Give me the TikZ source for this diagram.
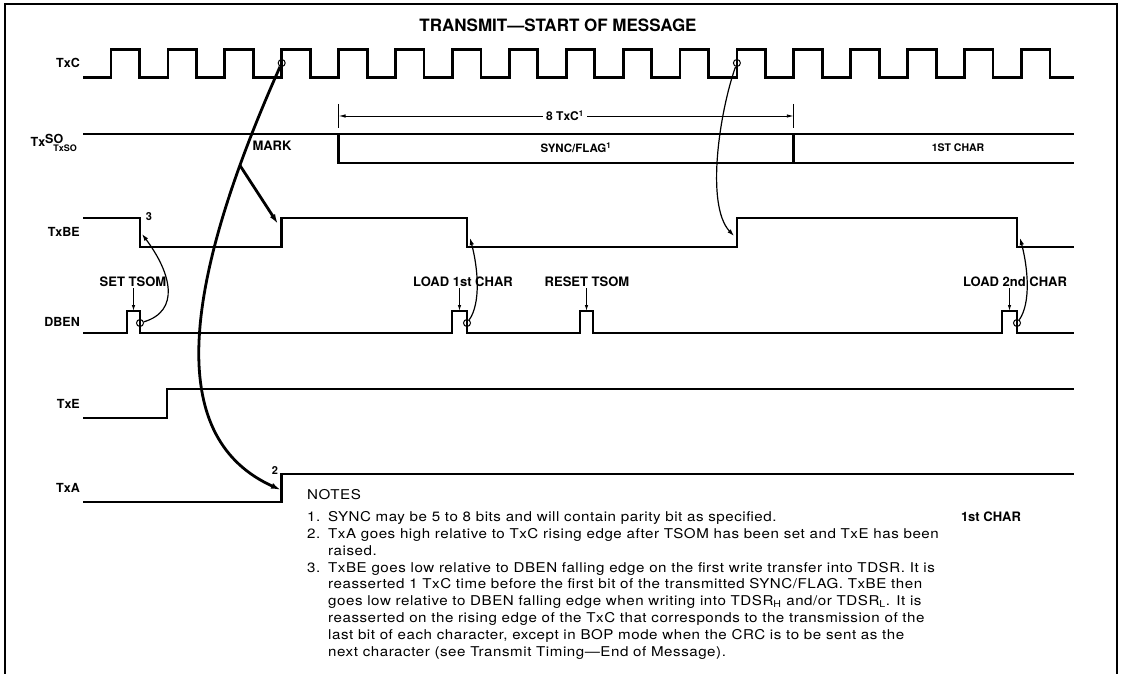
\documentclass[tikz,border=0pt]{standalone}
\usepackage{fontspec}
\setmainfont{TeX Gyre Heros}
\newfontfamily\notefont[FakeStretch=1.12, LetterSpace=4]{TeX Gyre Heros}
\usepackage{tikz}
\usetikzlibrary{arrows.meta, positioning}

\begin{document}
\begin{tikzpicture}[
    x=1pt, y=-1pt,
    sig/.style={line width=2.8pt, line join=miter},
    lbl/.style={anchor=east, inner sep=0pt, font=\fontsize{12.5}{13}\selectfont\bfseries},
    ann/.style={inner sep=1pt, font=\fontsize{13}{14}\selectfont\bfseries},
    small/.style={inner sep=1pt, font=\fontsize{11.5}{12}\selectfont\bfseries},
    edge/.style={draw, circle, inner sep=0pt, minimum size=7pt, line width=1pt},
    cause/.style={line width=1.2pt, -{Latex[length=7pt,width=4.5pt]}},
    strong/.style={line width=2.8pt, -{Latex[length=10pt,width=6pt]}},
    ptr/.style={line width=1pt, -{Latex[length=6pt,width=3.5pt]}},
    dim/.style={line width=0.9pt, -{Latex[length=7pt,width=3.5pt]}},
  ]
  \useasboundingbox (0,0) rectangle (1121,674);

  % frame and title
  \draw[line width=1.5pt] (5,674) -- (5,4) -- (1117,4) -- (1117,674);
  \node[font=\fontsize{17}{18}\selectfont\bfseries] (title) at (558,25) {TRANSMIT—START OF MESSAGE};

  % signal names
  \node[lbl] (txc) at (80,63) {TxC};
  \node[lbl] (txso) at (77,143) {Tx\raisebox{3pt}{SO}\hspace{-10pt}\raisebox{-4.5pt}{\fontsize{9}{9}\selectfont TxSO}};
  \node[lbl] (txbe) at (80,232) {TxBE};
  \node[lbl] (dben) at (80,322) {DBEN};
  \node[lbl] (txe) at (80,404) {TxE};
  \node[lbl] (txa) at (80,488) {TxA};

  % waveforms
  \draw[sig] (83,77.5) \foreach \k in {0,...,16} { -| (111+56.9*\k,49.5) -| (139.5+56.9*\k,77.5) } -- (1074,77.5);
  \draw[sig] (83,134) -- (1074,134);
  \draw[sig] (338.6,134) -- (338.6,163) -- (1074,163);
  \draw[sig] (793.8,134) -- (793.8,163);
  \draw[sig] (83,218) -| (140,247) -| (281.7,218) -| (467,247) -| (736.9,218) -| (1017,247) -- (1074,247);
  \draw[sig] (83,333) -| (127,311) -| (140,333) -| (452,311) -| (467,333)
             -| (580,311) -| (593,333) -| (1002,311) -| (1017,333) -- (1074,333);
  \draw[sig] (83,418) -| (167,389) -- (1074,389);
  \draw[sig] (83,502) -| (281.7,474) -- (1074,474);

  % TxSO texts
  \node[ann] (mark) at (272,146) {MARK};
  \node[small] (sync) at (576,148) {SYNC/FLAG\textsuperscript{1}};
  \node[small, font=\fontsize{10.5}{11}\selectfont\bfseries] (first) at (958,148) {1ST CHAR};
  \node[small, fill=white, inner sep=3pt, font=\fontsize{12}{13}\selectfont\bfseries] (eight) at (565,116) {8 TxC\textsuperscript{1}};
  \coordinate (dl) at (338.6,116);
  \coordinate (dr) at (793.8,116);
  \draw[line width=0.9pt] (338.6,104) -- (338.6,128);
  \draw[line width=0.9pt] (793.8,104) -- (793.8,128);
  \draw[dim] (eight) -- (dl);
  \draw[dim] (eight) -- (dr);

  % DBEN strobes
  \node[ann] (set) at (133,282) {SET TSOM};
  \node[ann] (load1) at (463,282) {LOAD 1st CHAR};
  \node[ann] (reset) at (587,282) {RESET TSOM};
  \node[ann] (load2) at (1015,282) {LOAD 2nd CHAR};
  \coordinate (p1) at (133.5,311);
  \coordinate (p2) at (459.5,311);
  \coordinate (p3) at (586.5,311);
  \coordinate (p4) at (1009.5,311);
  \draw[ptr] (set.south -| p1) -- (p1);
  \draw[ptr] (load1.south -| p2) -- (p2);
  \draw[ptr] (reset.south -| p3) -- (p3);
  \draw[ptr] (load2.south -| p4) -- (p4);

  % reference edges
  \node[edge] (c1) at (281.7,63) {};
  \node[edge] (c2) at (736.9,63) {};
  \node[edge] (d1) at (140,323) {};
  \node[edge] (d2) at (467,323) {};
  \node[edge] (d4) at (1017,323) {};
  \coordinate (be1) at (142,234);
  \coordinate (be2) at (278,224);
  \coordinate (be3) at (470,238);
  \coordinate (be4) at (734,236);
  \coordinate (be5) at (1020,238);
  \coordinate (ta) at (281,490);
  \node[font=\fontsize{11}{12}\selectfont\bfseries] (n3) at (149,217) {3};
  \node[font=\fontsize{11}{12}\selectfont\bfseries] (n2) at (275,471) {2};

  % arcs
  \draw[strong] (c1) .. controls (176,300) and (170,440) .. (ta) coordinate[pos=0.15] (br);
  \draw[strong] (br) -- (be2);
  \draw[cause] (c2) .. controls (720,110) and (705,205) .. (be4);
  \draw[cause] (d1) .. controls +(40,-12) and +(30,40) .. (be1);
  \draw[cause] (d2) .. controls +(14,-20) and +(8,30) .. (be3);
  \draw[cause] (d4) .. controls +(14,-20) and +(8,30) .. (be5);

  % notes
  \node[anchor=north west, inner sep=0pt, font=\notefont\fontsize{13.5}{16.8}\selectfont] (notes) at (307,488)
    {\begin{tabular}{@{}p{21pt}@{}l@{}}
      \multicolumn{2}{@{}l}{NOTES}\\[5pt]
      1. & SYNC may be 5 to 8 bits and will contain parity bit as specified.\\
      2. & TxA goes high relative to TxC rising edge after TSOM has been set and TxE has been\\
         & raised.\\
      3. & TxBE goes low relative to DBEN falling edge on the first write transfer into TDSR. It is\\
         & reasserted 1 TxC time before the first bit of the transmitted SYNC/FLAG. TxBE then\\
         & goes low relative to DBEN falling edge when writing into TDSR\textsubscript{H} and/or TDSR\textsubscript{L}. It is\\
         & reasserted on the rising edge of the TxC that corresponds to the transmission of the\\
         & last bit of each character, except in BOP mode when the CRC is to be sent as the\\
         & next character (see Transmit Timing—End of Message).
    \end{tabular}};
  \node[font=\fontsize{13}{14}\selectfont\bfseries] (char) at (991,517) {1st CHAR};
\end{tikzpicture}
\end{document}
